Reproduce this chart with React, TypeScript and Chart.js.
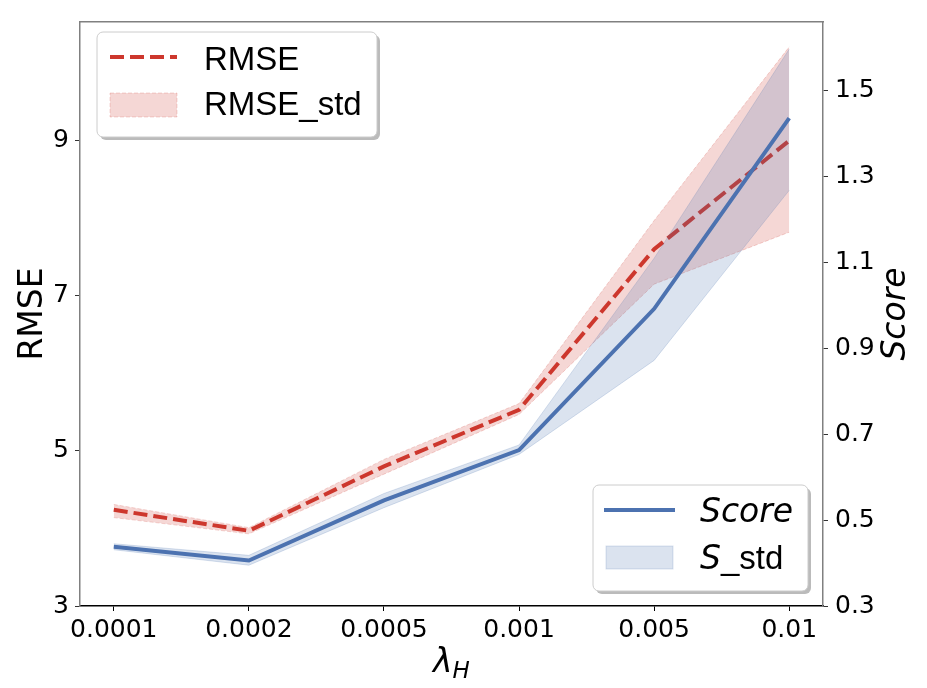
import React, { useEffect, useRef } from 'react';
import { Chart, registerables } from 'chart.js';

Chart.register(...registerables);

// lambda_H values, shown as evenly spaced categories
const categories = ['0.0001', '0.0002', '0.0005', '0.001', '0.005', '0.01'];

// RMSE (left axis) with its std band
const rmse = [4.24, 3.97, 4.8, 5.53, 7.6, 9.0];
const rmseUpper = [4.31, 4.01, 4.89, 5.61, 7.97, 10.21];
const rmseLower = [4.14, 3.93, 4.7, 5.47, 7.15, 7.82];

// Score (right axis) with its std band
const score = [0.438, 0.406, 0.546, 0.663, 0.992, 1.436];
const scoreUpper = [0.445, 0.418, 0.562, 0.675, 1.11, 1.597];
const scoreLower = [0.431, 0.395, 0.529, 0.653, 0.872, 1.268];

const rmseTicks = [3, 5, 7, 9];
const scoreTicks = [0.3, 0.5, 0.7, 0.9, 1.1, 1.3, 1.5];

const FONT = '"DejaVu Sans", sans-serif';
const LEGEND_FONT = '"Liberation Sans", Arial, sans-serif';
const RED = 'rgb(205, 55, 45)';
const RED_BAND = 'rgba(205, 55, 45, 0.2)';
const BLUE = 'rgb(76, 114, 176)';
const BLUE_BAND = 'rgba(76, 114, 176, 0.2)';
const SPINE = '#808080';

const toPoints = (vals: number[]) => vals.map((y, i) => ({ x: i, y }));

const legendBox = (ctx: CanvasRenderingContext2D, x: number, y: number, w: number, h: number) => {
    ctx.save();
    ctx.fillStyle = 'rgba(120, 120, 120, 0.5)';
    ctx.beginPath();
    ctx.roundRect(x + 3, y + 3, w, h, 6);
    ctx.fill();
    ctx.fillStyle = '#fff';
    ctx.strokeStyle = '#cccccc';
    ctx.lineWidth = 1;
    ctx.beginPath();
    ctx.roundRect(x, y, w, h, 6);
    ctx.fill();
    ctx.stroke();
    ctx.restore();
};

const decorPlugin = {
    id: 'decor',
    afterDraw(chart: any) {
        const ctx: CanvasRenderingContext2D = chart.ctx;
        const a = chart.chartArea;
        const midY = (a.top + a.bottom) / 2;
        ctx.save();
        ctx.fillStyle = '#000';
        ctx.textBaseline = 'alphabetic';

        // left axis title
        ctx.font = `33px ${FONT}`;
        ctx.textAlign = 'center';
        ctx.save();
        ctx.translate(42, midY);
        ctx.rotate(-Math.PI / 2);
        ctx.fillText('RMSE', 0, 0);
        ctx.restore();

        // right axis title (reads bottom to top)
        ctx.font = `italic 33px ${FONT}`;
        ctx.save();
        ctx.translate(905, midY);
        ctx.rotate(-Math.PI / 2);
        ctx.fillText('Score', 0, 0);
        ctx.restore();

        // x axis title: lambda with subscript H
        ctx.textAlign = 'left';
        ctx.font = `italic 33px ${FONT}`;
        const wl = ctx.measureText('λ').width;
        ctx.font = `italic 23px ${FONT}`;
        const wh = ctx.measureText('H').width;
        const sx = (a.left + a.right) / 2 - (wl + wh) / 2;
        ctx.font = `italic 33px ${FONT}`;
        ctx.fillText('λ', sx, 672);
        ctx.font = `italic 23px ${FONT}`;
        ctx.fillText('H', sx + wl, 678);

        // legend 1 (RMSE)
        legendBox(ctx, 97, 32, 280, 105);
        ctx.save();
        ctx.strokeStyle = RED;
        ctx.lineWidth = 4;
        ctx.setLineDash([14, 6]);
        ctx.beginPath();
        ctx.moveTo(110, 57);
        ctx.lineTo(177, 57);
        ctx.stroke();
        ctx.setLineDash([4, 2]);
        ctx.lineWidth = 1;
        ctx.fillStyle = RED_BAND;
        ctx.strokeStyle = RED_BAND;
        ctx.fillRect(110, 93, 67, 24);
        ctx.strokeRect(110, 93, 67, 24);
        ctx.restore();
        ctx.font = `33px ${LEGEND_FONT}`;
        ctx.fillText('RMSE', 204, 70);
        ctx.fillText('RMSE_std', 204, 115);

        // legend 2 (Score)
        legendBox(ctx, 593, 485, 215, 106);
        ctx.save();
        ctx.strokeStyle = BLUE;
        ctx.lineWidth = 4;
        ctx.beginPath();
        ctx.moveTo(604, 510);
        ctx.lineTo(675, 510);
        ctx.stroke();
        ctx.lineWidth = 1;
        ctx.fillStyle = BLUE_BAND;
        ctx.strokeStyle = BLUE_BAND;
        ctx.fillRect(606, 546, 67, 23);
        ctx.strokeRect(606, 546, 67, 23);
        ctx.restore();
        ctx.font = `italic 33px ${FONT}`;
        ctx.fillText('Score', 700, 522);
        ctx.fillText('S', 700, 569);
        const ws = ctx.measureText('S').width;
        ctx.font = `33px ${LEGEND_FONT}`;
        ctx.fillText('_std', 700 + ws, 569);

        ctx.restore();
    },
};

const App: React.FC = () => {
    const chartRef = useRef<HTMLCanvasElement>(null);
    const chartInstance = useRef<Chart | null>(null);

    useEffect(() => {
        if (!chartRef.current) return;
        if (chartInstance.current) chartInstance.current.destroy();
        const ctx = chartRef.current.getContext('2d');
        if (!ctx) return;

        const tickFont = { family: FONT, size: 25 };
        const line = { pointRadius: 0, tension: 0 };

        chartInstance.current = new Chart(ctx, {
            type: 'line',
            data: {
                datasets: [
                    { label: 'Score', data: toPoints(score), yAxisID: 'y2', borderColor: BLUE, borderWidth: 4, fill: false, ...line },
                    { label: 'S_std', data: toPoints(scoreUpper), yAxisID: 'y2', borderColor: BLUE_BAND, borderWidth: 1, backgroundColor: BLUE_BAND, fill: '+1', ...line },
                    { label: 'S_std lower', data: toPoints(scoreLower), yAxisID: 'y2', borderColor: BLUE_BAND, borderWidth: 1, fill: false, ...line },
                    { label: 'RMSE', data: toPoints(rmse), yAxisID: 'y', borderColor: RED, borderWidth: 4, borderDash: [14, 6], fill: false, ...line },
                    { label: 'RMSE_std', data: toPoints(rmseUpper), yAxisID: 'y', borderColor: RED_BAND, borderWidth: 1, borderDash: [4, 2], backgroundColor: RED_BAND, fill: '+1', ...line },
                    { label: 'RMSE_std lower', data: toPoints(rmseLower), yAxisID: 'y', borderColor: RED_BAND, borderWidth: 1, borderDash: [4, 2], fill: false, ...line },
                ],
            },
            options: {
                animation: false,
                responsive: true,
                maintainAspectRatio: false,
                layout: { padding: 0 },
                plugins: {
                    legend: { display: false },
                    tooltip: { enabled: false },
                },
                scales: {
                    x: {
                        type: 'linear',
                        position: 'bottom',
                        min: -0.25,
                        max: categories.length - 0.75,
                        afterBuildTicks: (s: any) => {
                            s.ticks = categories.map((_, i) => ({ value: i }));
                        },
                        afterFit: (s: any) => {
                            s.height = 82;
                        },
                        ticks: {
                            font: tickFont,
                            color: '#000',
                            padding: 4,
                            maxRotation: 0,
                            autoSkip: false,
                            callback: (v: any) => categories[v] ?? '',
                        },
                        grid: { drawOnChartArea: false, tickLength: 5, tickColor: '#000' },
                        border: { color: '#000', width: 1.5 },
                    },
                    xTop: {
                        type: 'linear',
                        position: 'top',
                        min: -0.25,
                        max: categories.length - 0.75,
                        afterFit: (s: any) => {
                            s.height = 15;
                        },
                        ticks: { display: false },
                        grid: { drawOnChartArea: false, drawTicks: false },
                        border: { color: SPINE, width: 1.5 },
                    },
                    y: {
                        type: 'linear',
                        position: 'left',
                        min: 3,
                        max: 10.53,
                        afterBuildTicks: (s: any) => {
                            s.ticks = rmseTicks.map((v) => ({ value: v }));
                        },
                        afterFit: (s: any) => {
                            s.width = 80;
                        },
                        ticks: { font: tickFont, color: '#000', padding: 6 },
                        grid: { drawOnChartArea: false, tickLength: 5, tickColor: '#333' },
                        border: { color: SPINE, width: 1.5 },
                    },
                    y2: {
                        type: 'linear',
                        position: 'right',
                        min: 0.3,
                        max: 1.66,
                        afterBuildTicks: (s: any) => {
                            s.ticks = scoreTicks.map((v) => ({ value: v }));
                        },
                        afterFit: (s: any) => {
                            s.width = 104;
                        },
                        ticks: {
                            font: tickFont,
                            color: '#000',
                            padding: 7,
                            callback: (v: any) => Number(v).toFixed(1),
                        },
                        grid: { drawOnChartArea: false, tickLength: 5, tickColor: '#333' },
                        border: { color: SPINE, width: 1.5 },
                    },
                },
            },
            plugins: [decorPlugin],
        } as any);

        return () => {
            if (chartInstance.current) {
                chartInstance.current.destroy();
                chartInstance.current = null;
            }
        };
    }, []);

    return (
        <div style={{ position: 'absolute', left: 0, top: 0, width: 927, height: 688, background: '#fff' }}>
            <canvas ref={chartRef}></canvas>
        </div>
    );
};

export default App;
